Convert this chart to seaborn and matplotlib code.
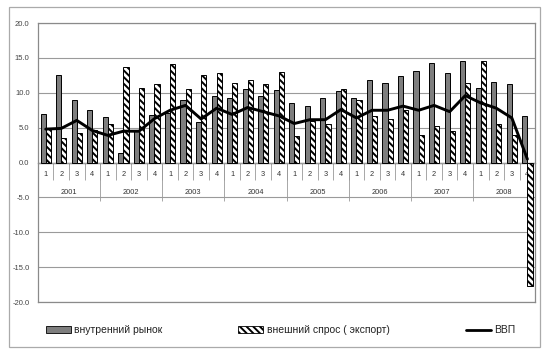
import numpy as np
import pandas as pd
import matplotlib
matplotlib.use("Agg")
import matplotlib.pyplot as plt
import seaborn as sns
from matplotlib.patches import Rectangle, Patch
from matplotlib.lines import Line2D

years = ["2001", "2002", "2003", "2004", "2005", "2006", "2007", "2008"]
quarters = ["1", "2", "3", "4"]

domestic = [7.0, 12.6, 9.0, 7.6, 6.5, 1.4, 4.5, 6.8,
            7.1, 9.0, 5.8, 9.6, 9.3, 10.6, 9.5, 10.4,
            8.6, 8.1, 9.3, 10.2, 9.2, 11.8, 11.35, 12.4,
            13.2, 14.3, 12.9, 14.5, 10.7, 11.6, 11.2, 6.7]
export = [4.8, 3.5, 4.2, 4.7, 5.6, 13.65, 10.7, 11.25,
          14.2, 10.6, 12.6, 12.9, 11.35, 11.8, 11.25, 13.0,
          3.75, 5.9, 5.5, 10.5, 9.0, 6.7, 6.25, 7.6,
          3.9, 5.3, 4.6, 11.35, 14.5, 5.5, 4.0, -17.7]
gdp = [4.8, 4.9, 6.05, 4.6, 3.9, 4.5, 4.5, 6.3,
       7.5, 8.2, 6.25, 7.8, 6.9, 7.9, 7.3, 6.7,
       5.6, 6.15, 6.15, 7.6, 6.4, 7.5, 7.5, 8.1,
       7.5, 8.2, 7.3, 9.6, 8.55, 7.8, 6.4, 0.5]

lbl_dom = "внутренний рынок"
lbl_exp = "внешний спрос ( экспорт)"
lbl_gdp = "ВВП"

periods = [y + "-" + q for y in years for q in quarters]
df = pd.DataFrame({
    "period": periods * 2,
    "value": domestic + export,
    "series": [lbl_dom] * len(periods) + [lbl_exp] * len(periods),
})

sns.set_style("white")
plt.rcParams["font.family"] = ["Liberation Sans", "DejaVu Sans"]
plt.rcParams["hatch.linewidth"] = 1.4

fig = plt.figure(figsize=(5.5, 3.55), dpi=100)
ax = fig.add_axes([0.069, 0.149, 0.904, 0.786])

sns.barplot(data=df, x="period", y="value", hue="series", order=periods,
            hue_order=[lbl_dom, lbl_exp],
            palette={lbl_dom: "#7e7e7e", lbl_exp: "white"},
            width=0.66, edgecolor="black", linewidth=0.7, legend=False, ax=ax)
n = len(periods)
for p in ax.patches[n:2 * n]:
    p.set_hatch("\\\\\\\\\\")

sns.lineplot(x=np.arange(n), y=gdp, color="black", linewidth=2.1, sort=False, ax=ax)

ax.set_xlim(-0.5, n - 0.5)
ax.set_ylim(-20, 20)
ax.set_yticks(np.arange(-20, 21, 5))
ax.set_yticklabels([f"{v:.1f}" for v in np.arange(-20, 21, 5)])
ax.tick_params(axis="y", length=0, labelsize=5.5, labelcolor="#444", pad=6)
ax.set_xticks([])
ax.set_xlabel("")
ax.set_ylabel("")
ax.yaxis.grid(True, color="#9a9a9a", linewidth=0.8)
ax.set_axisbelow(True)
for s in ax.spines.values():
    s.set_color("#8a8a8a")
    s.set_linewidth(0.9)

# quarter axis at zero
qax = ax.secondary_xaxis(0.5)
qax.set_alignment("bottom")
qax.set_xticks(np.arange(n), labels=quarters * len(years))
qax.set_xticks(np.arange(-0.5, n, 1), minor=True)
qax.tick_params(which="major", length=0, pad=6, labelsize=5.3, labelcolor="#333")
qax.tick_params(which="minor", length=12, width=0.6, color="#999")
qax.spines["bottom"].set_color("#444")
qax.spines["bottom"].set_linewidth(0.9)

# year axis
yax = ax.secondary_xaxis(0.5)
yax.set_alignment("bottom")
yax.set_xticks(np.arange(1.5, n, 4), labels=years)
yax.set_xticks(np.arange(-0.5, n + 1, 4), minor=True)
yax.tick_params(which="major", length=0, pad=19, labelsize=5.3, labelcolor="#333")
yax.tick_params(which="minor", length=27, width=0.6, color="#999")
yax.spines["bottom"].set_visible(False)

handles = [
    Patch(facecolor="#7e7e7e", edgecolor="black", linewidth=0.6),
    Patch(facecolor="white", edgecolor="black", linewidth=0.6, hatch="\\\\\\\\\\"),
    Line2D([], [], color="black", linewidth=2.0),
]
fig.legend(handles, [lbl_dom, lbl_exp, lbl_gdp], loc="center", ncol=3,
           bbox_to_anchor=(0.51, 0.07), frameon=False, fontsize=7.5,
           handlelength=2.4, handleheight=0.7, handletextpad=0.3,
           columnspacing=7.3, labelcolor="#222")

fig.patches.append(Rectangle((0.016, 0.023), 0.966, 0.957, transform=fig.transFigure,
                             fill=False, edgecolor="#aaaaaa", linewidth=0.9))

fig.savefig("out.png", dpi=100)
